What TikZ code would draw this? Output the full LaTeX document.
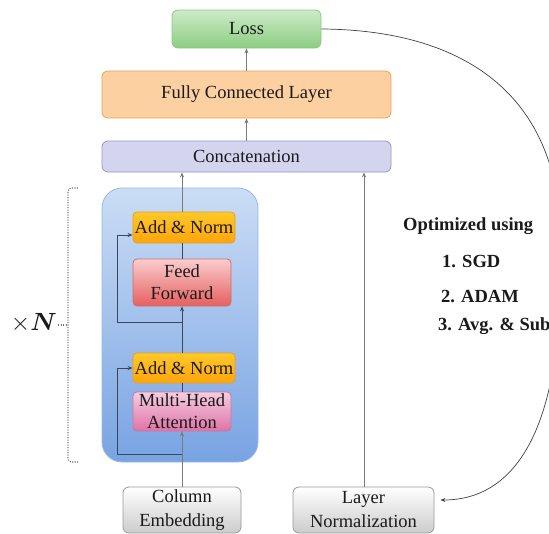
\documentclass[tikz,border=0pt]{standalone}
\usepackage{fontspec}
\usepackage{bm}
\setmainfont{Liberation Serif}
\usetikzlibrary{arrows.meta,calc}
\definecolor{txt}{HTML}{1A1A1A}
\definecolor{conn}{HTML}{7A7A7A}
\definecolor{inner}{HTML}{3A4660}
\begin{document}
\begin{tikzpicture}[x=1pt,y=-1pt,
  every node/.style={font=\fontsize{18.5}{22}\selectfont, text=txt, align=center, inner sep=0pt},
  box/.style={rounded corners=6pt, draw, line width=0.8pt},
  lossbox/.style={box, draw={rgb,255:red,140;green,200;blue,130}, top color={rgb,255:red,205;green,235;blue,200}, bottom color={rgb,255:red,140;green,205;blue,130}},
  fcbox/.style={box, draw={rgb,255:red,235;green,160;blue,90}, fill={rgb,255:red,252;green,208;blue,160}},
  catbox/.style={box, draw={rgb,255:red,150;green,150;blue,200}, fill={rgb,255:red,212;green,212;blue,238}},
  anbox/.style={box, rounded corners=4pt, draw={rgb,255:red,225;green,160;blue,40}, top color={rgb,255:red,255;green,200;blue,40}, bottom color={rgb,255:red,255;green,165;blue,10}},
  ffbox/.style={box, rounded corners=4pt, draw={rgb,255:red,205;green,110;blue,110}, top color={rgb,255:red,250;green,205;blue,205}, bottom color={rgb,255:red,230;green,95;blue,95}},
  mhbox/.style={box, rounded corners=4pt, draw={rgb,255:red,200;green,120;blue,160}, top color={rgb,255:red,245;green,205;blue,225}, bottom color={rgb,255:red,222;green,115;blue,165}},
  graybox/.style={box, draw=gray!80, top color=white, bottom color=gray!40, font=\fontsize{18.5}{24}\selectfont},
  arr/.style={-{Stealth[length=5pt,width=4pt]}, line width=0.8pt},
  gline/.style={draw=conn, line width=0.8pt},
  iline/.style={draw=inner, line width=0.8pt},
  opttext/.style={font=\fontsize{18.5}{22}\selectfont\bfseries, anchor=west},
  brk/.style={line width=1.1pt, draw=gray!90!black, dash pattern=on 1.1pt off 1.4pt}
]
\useasboundingbox (0,0) rectangle (549,533);
% blue block
\node[box, rounded corners=20pt, draw={rgb,255:red,150;green,185;blue,235}, top color={rgb,255:red,203;green,221;blue,245}, bottom color={rgb,255:red,120;green,163;blue,226}, minimum width=156pt, minimum height=274pt] (blk) at (180,325) {};
% nodes
\node[lossbox, minimum width=149pt, minimum height=38pt] (loss) at (246.5,29) {Loss};
\node[fcbox, minimum width=289pt, minimum height=47pt] (fc) at (246.5,94.5) {Fully Connected Layer};
\node[catbox, minimum width=289pt, minimum height=31pt] (cat) at (246.5,156.5) {Concatenation};
\node[graybox, minimum width=118pt, minimum height=46pt] (ce) at (182,510) {Column\\Embedding};
\node[graybox, minimum width=141pt, minimum height=46pt] (ln) at (363.5,510) {Layer\\Normalization};
\coordinate (r2) at (182,454);
\coordinate (r1) at (182,322);
\coordinate (mainx) at (182,0);
\node[mhbox, minimum width=98pt, minimum height=39pt] (mh) at (182,411.5) {Multi-Head\\Attention};
\node[anbox, minimum width=102pt, minimum height=30pt] (anb) at (184,368) {Add \& Norm};
\node[ffbox, minimum width=98pt, minimum height=47pt] (ff) at (182,282.5) {Feed\\Forward};
\node[anbox, minimum width=102pt, minimum height=31pt] (ant) at (184,227.5) {Add \& Norm};
% main vertical flow
\draw[gline, arr] (ce.north) -- (mh.south);
\draw[iline] (mh.north) -- (anb.south -| mainx);
\draw[iline, arr] (anb.north -| mainx) -- (ff.south);
\draw[iline] (ff.north) -- (ant.south -| mainx);
\draw[gline, arr] (ant.north -| mainx) -- (cat.south -| mainx);
% residuals
\draw[iline, arr] (r2) -- (117,454) -- (117,368) -- (anb.west);
\draw[iline, arr] (r1) -- (117,322) -- (117,235) -- (ant.west |- 0,235);
% right branch and top
\draw[gline, arr] (ln.north -| 364,0) -- (cat.south -| 364,0);
\draw[gline, arr] (cat.north -| loss.south) -- (fc.south);
\draw[gline, arr] (fc.north) -- (loss.south);
% feedback curve
\draw[draw=black!75, line width=0.7pt, -{Stealth[length=5pt,width=4pt]}] (loss.east) .. controls (470,30) and (570,100) .. (560,265) .. controls (562,420) and (520,500) .. ([xshift=6pt,yshift=10pt]ln.east);
% text
\node[opttext] (opt) at (403,226) {Optimized using};
\node[opttext] (o1) at (442,262) {1. SGD};
\node[opttext] (o2) at (441,297) {2. ADAM};
\node[opttext] (o3) at (438,326) {3. Avg. \& Sub};
% bracket
\draw[brk] (78,188) -- (71,188) to[out=180,in=90] (68,192) -- (68,458) to[out=-90,in=180] (71,462) -- (78,462);
\draw[brk] (58,325) -- (68,325);
\node[font=\fontsize{27}{30}\selectfont, anchor=east] (xn) at (57,323) {$\times\bm{N}$};
\end{tikzpicture}
\end{document}
